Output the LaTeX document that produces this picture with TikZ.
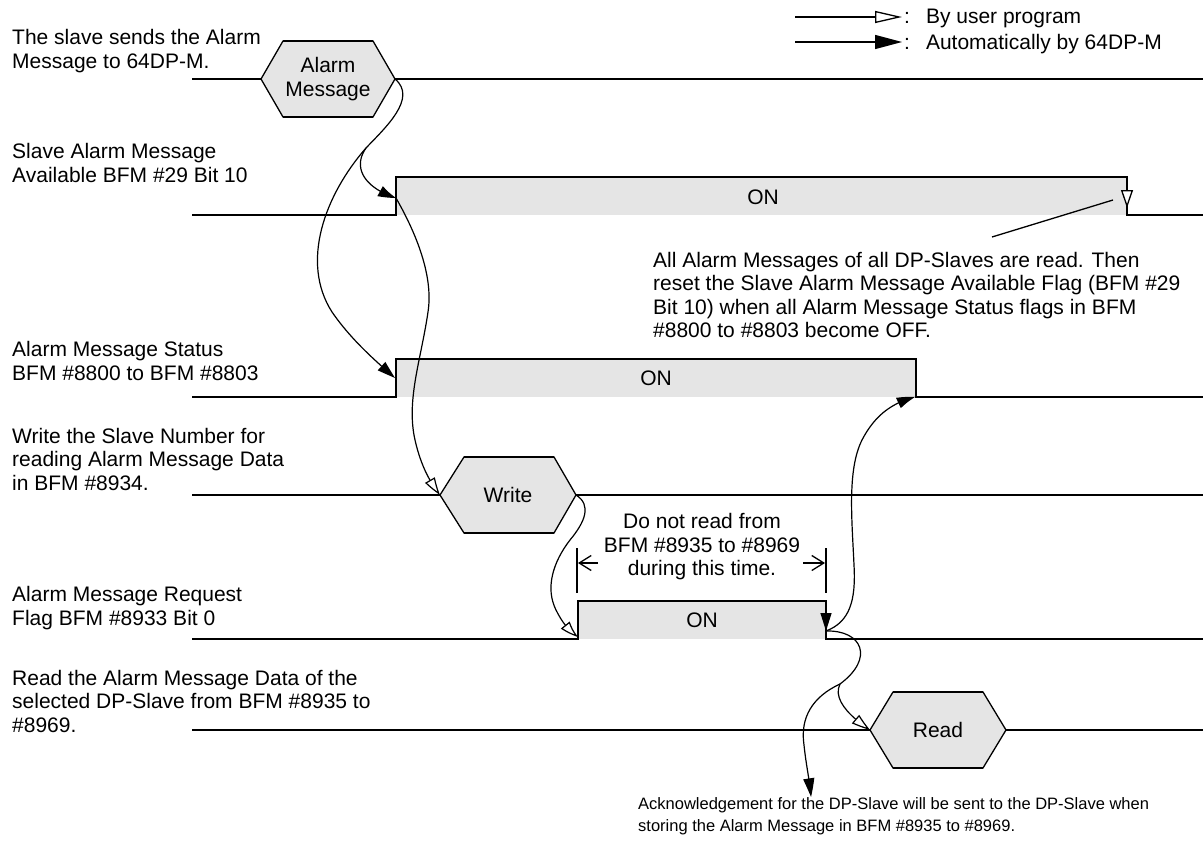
\documentclass[tikz,border=0pt]{standalone}
\usepackage{fontspec}
\setmainfont{Liberation Sans}
\usetikzlibrary{arrows.meta,bending}
\definecolor{onfill}{HTML}{E5E5E5}
\tikzset{
  sig/.style={line width=2.6pt,line cap=butt,line join=miter},
  thin/.style={line width=1.3pt},
  crv/.style={line width=1.2pt},
  autoarr/.style={-{Triangle[length=18pt,width=11pt,bend]}},
  userarr/.style={-{Triangle[open,length=18pt,width=11pt,fill=white,bend]}},
  txt/.style={font=\fontsize{21}{23.5}\selectfont,inner sep=0pt},
  lbl/.style={txt,anchor=west,align=left},
}
\begin{document}
\begin{tikzpicture}[x=1pt,y=-1pt]
\useasboundingbox (0,0) rectangle (1203,843);

% ---------- legend
\coordinate (l1a) at (795,17); \coordinate (l1b) at (902,17);
\coordinate (l2a) at (795,42); \coordinate (l2b) at (902,42);
\draw[thin,-{Triangle[open,length=27pt,width=12pt,fill=white]}] (l1a) -- (l1b);
\draw[thin,-{Triangle[length=27pt,width=14pt]}] (l2a) -- (l2b);
\node[lbl] (leg1) at (904,18) {:\hspace{16pt}By user program};
\node[lbl] (leg2) at (904,44) {:\hspace{16pt}Automatically by 64DP-M};

% ---------- row labels
\node[lbl] (r1) at (12,51) {The slave sends the Alarm\\Message to 64DP-M.};
\node[lbl] (r2) at (12,163) {Slave Alarm Message\\Available BFM \#29 Bit 10};
\node[lbl] (r3) at (12,361) {Alarm Message Status\\BFM \#8800 to BFM \#8803};
\node[lbl] (r4) at (12,459) {Write the Slave Number for\\reading Alarm Message Data\\in BFM \#8934.};
\node[lbl] (r5) at (12,608) {Alarm Message Request\\Flag BFM \#8933 Bit 0};
\node[lbl] (r6) at (12,701) {Read the Alarm Message Data of the\\selected DP-Slave from BFM \#8935 to\\\#8969.};

% ---------- gray ON areas
\fill[onfill] (396,177) rectangle (1127,215);
\fill[onfill] (396,359) rectangle (916,397);
\fill[onfill] (578,601) rectangle (826,639);

% ---------- hexagons
\filldraw[fill=onfill,thin] (261,79) -- (283,41) -- (373,41) -- (395,79) -- (373,117) -- (283,117) -- cycle;
\draw[sig] (283,41) -- (373,41) (283,117) -- (373,117);
\node[txt,align=center] (hexAM) at (328,79) {Alarm\\Message};
\coordinate (amR) at (395,79);

\filldraw[fill=onfill,thin] (440,495) -- (464,457) -- (554,457) -- (576,495) -- (554,533) -- (464,533) -- cycle;
\draw[sig] (464,457) -- (554,457) (464,533) -- (554,533);
\node[txt] (hexW) at (508,495) {Write};
\coordinate (wL) at (440,495); \coordinate (wR) at (576,495);

\filldraw[fill=onfill,thin] (870,730) -- (893,692) -- (983,692) -- (1006,730) -- (983,768) -- (893,768) -- cycle;
\draw[sig] (893,692) -- (983,692) (893,768) -- (983,768);
\node[txt] (hexR) at (938,730) {Read};
\coordinate (rL) at (870,730);

% ---------- signal lines
\draw[sig] (192,79) -- (261,79) (395,79) -- (1203,79);
\draw[sig] (192,215) -- (396,215) -- (396,177) -- (1127,177) -- (1127,215) -- (1203,215);
\draw[sig] (192,397) -- (396,397) -- (396,359) -- (916,359) -- (916,397) -- (1203,397);
\draw[sig] (192,495) -- (440,495) (576,495) -- (1203,495);
\draw[sig] (192,639) -- (578,639) -- (578,601) -- (826,601) -- (826,639) -- (1203,639);
\draw[sig] (192,730) -- (870,730) (1006,730) -- (1203,730);

\node[txt] (on2) at (763,197) {ON};
\node[txt] (on3) at (656,378) {ON};
\node[txt] (on5) at (702,620) {ON};

% ---------- edge coordinates
\coordinate (s2up) at (396,198);
\coordinate (s3up) at (395,378);
\coordinate (s3dn) at (915,397);
\coordinate (s5up) at (578,637);
\coordinate (s5dn) at (826,631);
\coordinate (fk1) at (366,148);
\coordinate (fk2) at (840,684);

% arrowheads on falling edges
\draw[thin,-{Triangle[open,length=18pt,width=12pt,fill=white]}] (1127,188) -- (1127,208);
\draw[thin,-{Triangle[length=18pt,width=11pt]}] (826,610) -- (s5dn);

% ---------- curved connectors
\draw[crv] (amR) .. controls (418,98) and (385,128) .. (fk1);
\draw[crv,autoarr] (fk1) .. controls (352,168) and (365,188) .. (s2up);
\draw[crv,autoarr] (fk1) .. controls (325,195) and (300,262) .. (332,312) .. controls (350,338) and (372,358) .. (s3up);
\draw[crv,userarr] (s2up) .. controls (420,240) and (433,280) .. (428,312) .. controls (421,360) and (406,400) .. (415,440) .. controls (420,462) and (428,480) .. (wL);
\draw[crv,userarr] (wR) .. controls (592,505) and (585,522) .. (570,540) .. controls (553,562) and (545,588) .. (556,610) .. controls (562,622) and (568,630) .. (s5up);
\draw[crv,autoarr] (s5dn) .. controls (850,622) and (856,600) .. (854,565) .. controls (852,520) and (847,470) .. (862,440) .. controls (875,415) and (892,403) .. (s3dn);
\draw[crv] (s5dn) .. controls (862,630) and (875,658) .. (fk2);
\draw[crv,userarr] (fk2) .. controls (832,700) and (852,718) .. (rL);
\draw[crv,autoarr] (fk2) .. controls (812,697) and (800,718) .. (804,745) .. controls (806,765) and (810,782) .. (811,797);

% ---------- leader line of annotation
\coordinate (ldA) at (992,237); \coordinate (ldB) at (1113,200);
\draw[thin] (ldA) -- (ldB);
\node[lbl] (note1) at (653,295) {All Alarm Messages of all DP-Slaves are read. Then\\reset the Slave Alarm Message Available Flag (BFM \#29\\Bit 10) when all Alarm Message Status flags in BFM\\\#8800 to \#8803 become OFF.};

% ---------- do-not-read annotation
\coordinate (b1t) at (577,548); \coordinate (b1b) at (577,593);
\coordinate (b2t) at (826,548); \coordinate (b2b) at (826,593);
\draw[sig,line width=2pt] (b1t) -- (b1b) (b2t) -- (b2b);
\coordinate (a1s) at (598,563); \coordinate (a1e) at (578,563);
\coordinate (a2s) at (803,563); \coordinate (a2e) at (825,563);
\draw[thin,-{Straight Barb[length=12pt,width=15pt]}] (a1s) -- (a1e);
\draw[thin,-{Straight Barb[length=12pt,width=15pt]}] (a2s) -- (a2e);
\node[txt,align=center] (dnr) at (702,547) {Do not read from\\BFM \#8935 to \#8969\\during this time.};

% ---------- bottom text
\node[lbl,font=\fontsize{16.5}{22}\selectfont] (ack) at (638,816) {Acknowledgement for the DP-Slave will be sent to the DP-Slave when\\storing the Alarm Message in BFM \#8935 to \#8969.};
\end{tikzpicture}
\end{document}
